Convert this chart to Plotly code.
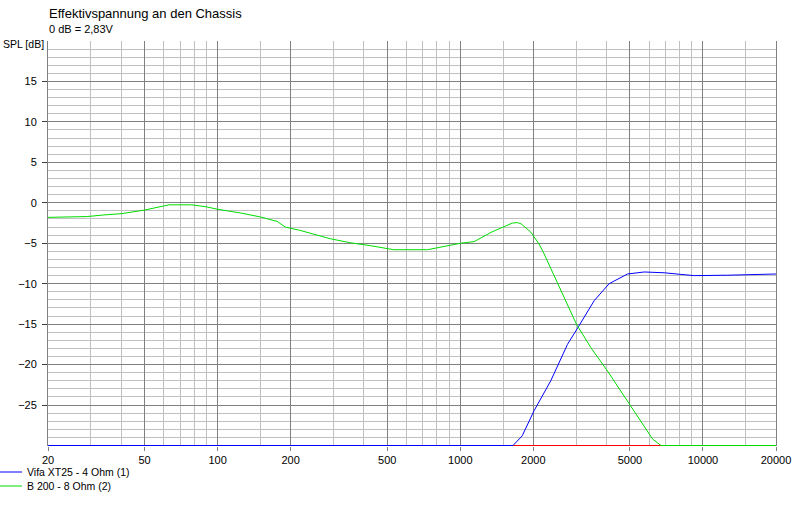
import plotly.graph_objects as go

# ---- data ----
b200_freq = [20, 29, 34, 40, 50, 57, 63, 78, 90, 100, 124, 150, 176, 190, 218, 292, 322, 354, 427,
             532, 733, 855, 1000, 1140, 1350, 1640, 1720, 1780, 1950, 2112, 2214, 3010,
             3452, 4044, 4966, 5726, 6200, 6714, 20000]
b200_db = [-1.8, -1.7, -1.5, -1.35, -0.9, -0.5, -0.25, -0.25, -0.5, -0.8, -1.25, -1.75, -2.3, -3.0,
           -3.4, -4.45, -4.7, -4.95, -5.3, -5.8, -5.8, -5.45, -5.0, -4.8, -3.6, -2.5, -2.45, -2.6,
           -3.6, -5.1, -6.3, -15.0, -17.9, -20.8, -24.9, -27.6, -29.2, -30, -30]

xt25_freq = [20, 1650, 1800, 2014, 2360, 2765, 3085, 3562, 4106, 4887, 5726, 6926, 8117, 9210,
             12650, 17900, 20000]
xt25_db = [-30, -30, -28.8, -25.7, -22.0, -17.5, -15.2, -12.1, -10.0, -8.8, -8.55, -8.65, -8.85,
           -9.0, -8.95, -8.8, -8.8]

clip_freq = [1650, 6714]
clip_db = [-30, -30]

x_major = [20, 50, 100, 200, 500, 1000, 2000, 5000, 10000, 20000]
x_labels = [str(v) for v in x_major]
x_minor = [30, 40, 60, 70, 80, 90, 150, 300, 400, 600, 700, 800, 900, 1500, 3000, 4000,
           6000, 7000, 8000, 9000, 15000]
y_major = [-25, -20, -15, -10, -5, 0, 5, 10, 15]
y_minor = list(range(-29, 20))

FONT = "Liberation Sans, Arial, sans-serif"
MAJOR = "#808080"
MINOR = "#c0c0c0"

L, R, T, B = 48, 24, 41, 61
W, H = 800, 507
pw, ph = W - L - R, H - T - B


def px(x):
    return (x - L) / pw


def py(y):
    return (H - B - y) / ph


fig = go.Figure()
fig.add_trace(go.Scatter(x=clip_freq, y=clip_db, mode="lines", line=dict(color="#ff0000", width=1),
                         showlegend=False, hoverinfo="skip"))
fig.add_trace(go.Scatter(x=xt25_freq, y=xt25_db, mode="lines", name="Vifa XT25 - 4 Ohm (1)",
                         line=dict(color="#0000ff", width=1), legend="legend"))
fig.add_trace(go.Scatter(x=b200_freq, y=b200_db, mode="lines", name="B 200 - 8 Ohm (2)",
                         line=dict(color="#00dd00", width=1), legend="legend2"))

leg_common = dict(xanchor="left", yanchor="middle",
                  font=dict(family=FONT, size=10.5, color="black"),
                  bgcolor="rgba(0,0,0,0)", itemwidth=30, borderwidth=0)

fig.update_layout(
    width=W, height=H,
    margin=dict(l=L, r=R, t=T, b=B, autoexpand=False),
    paper_bgcolor="white", plot_bgcolor="white",
    font=dict(family=FONT, size=11, color="black"),
    showlegend=True,
    legend=dict(x=px(-13), y=py(472), **leg_common),
    legend2=dict(x=px(-13), y=py(486), **leg_common),
    xaxis=dict(type="log", range=[1.30103, 4.30103],
               tickvals=x_major, ticktext=x_labels,
               showgrid=True, gridcolor=MAJOR, gridwidth=1,
               minor=dict(tickvals=x_minor, showgrid=True, gridcolor=MINOR, gridwidth=1, ticks=""),
               ticks="outside", ticklen=4, tickcolor=MAJOR, tickwidth=1,
               showline=False, zeroline=False,
               tickfont=dict(family=FONT, size=11, color="black")),
    xaxis2=dict(type="log", range=[1.30103, 4.30103], overlaying="x", side="top", anchor="y",
                showline=True, linecolor=MAJOR, linewidth=1, showgrid=False,
                showticklabels=False, ticks=""),
    yaxis=dict(range=[-30 - 0.5 / (ph / 50), 20],
               tickvals=y_major,
               showgrid=True, gridcolor=MAJOR, gridwidth=1,
               minor=dict(tickvals=y_minor, showgrid=True, gridcolor=MINOR, gridwidth=1, ticks=""),
               ticks="outside", ticklen=5, tickcolor="#404040", tickwidth=1,
               ticklabelstandoff=3,
               showline=True, mirror=True, linecolor=MAJOR, linewidth=1, zeroline=False,
               tickfont=dict(family=FONT, size=11, color="black")),
)

fig.add_annotation(text="Effektivspannung an den Chassis", xref="paper", yref="paper",
                   x=px(47), y=py(13), xanchor="left", yanchor="middle", showarrow=False,
                   font=dict(family=FONT, size=13, color="black"))
fig.add_annotation(text="0 dB = 2,83V", xref="paper", yref="paper",
                   x=px(47), y=py(29), xanchor="left", yanchor="middle", showarrow=False,
                   font=dict(family=FONT, size=11, color="black"))
fig.add_annotation(text="SPL [dB]", xref="paper", yref="paper",
                   x=px(1), y=py(44), xanchor="left", yanchor="middle", showarrow=False,
                   font=dict(family=FONT, size=10.5, color="black"))

fig.write_html("out.html", config={"displayModeBar": False},
               post_script="document.body.style.margin='0px';")
